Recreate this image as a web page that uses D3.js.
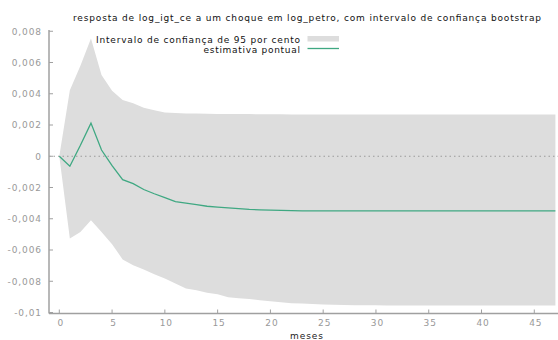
<!DOCTYPE html>
<html>
<head>
<meta charset="utf-8">
<script src="https://cdn.jsdelivr.net/npm/d3@7"></script>
<style>
  html, body { margin: 0; padding: 0; background: #fff; }
  svg text { font-family: "DejaVu Sans", Verdana, sans-serif; }
</style>
</head>
<body>
<svg id="chart" width="558" height="340"></svg>
<script>
// Impulse response of log_igt_ce to a shock in log_petro (months 0..47)
const months = d3.range(0, 48);

const pointEstimate = [
  0, -0.00064, 0.0007, 0.00212, 0.0004, -0.0006, -0.0015, -0.00175, -0.00213, -0.0024,
  -0.00265, -0.0029, -0.003, -0.0031, -0.0032, -0.00325, -0.0033, -0.00335, -0.0034, -0.00343,
  -0.00345, -0.00347, -0.00348, -0.00349, -0.0035, -0.0035, -0.0035, -0.0035, -0.0035, -0.0035,
  -0.0035, -0.0035, -0.0035, -0.0035, -0.0035, -0.0035, -0.0035, -0.0035, -0.0035, -0.0035,
  -0.0035, -0.0035, -0.0035, -0.0035, -0.0035, -0.0035, -0.0035, -0.0035
];

const upperBound = [
  0, 0.00422, 0.0058, 0.00753, 0.0052, 0.0042, 0.0036, 0.0034, 0.0031, 0.00294,
  0.0028, 0.00277, 0.00274, 0.00273, 0.00272, 0.00271, 0.0027, 0.0027, 0.0027, 0.00269,
  0.00269, 0.00269, 0.00268, 0.00268, 0.00268, 0.00268, 0.00268, 0.00268, 0.00268, 0.00268,
  0.00268, 0.00268, 0.00268, 0.00268, 0.00268, 0.00268, 0.00268, 0.00268, 0.00268, 0.00268,
  0.00268, 0.00268, 0.00268, 0.00268, 0.00268, 0.00268, 0.00268, 0.00268
];

const lowerBound = [
  0, -0.00527, -0.00484, -0.0041, -0.00484, -0.00563, -0.0066, -0.00698, -0.00725, -0.00755,
  -0.00783, -0.00815, -0.00847, -0.00858, -0.00873, -0.00883, -0.00902, -0.00909, -0.00913, -0.00922,
  -0.00928, -0.00935, -0.0094, -0.00943, -0.00946, -0.00948, -0.0095, -0.00952, -0.00953, -0.00954,
  -0.00954, -0.00955, -0.00955, -0.00955, -0.00955, -0.00955, -0.00955, -0.00955, -0.00955, -0.00955,
  -0.00955, -0.00955, -0.00955, -0.00955, -0.00955, -0.00955, -0.00955, -0.00955
];

const xTicks = [0, 5, 10, 15, 20, 25, 30, 35, 40, 45];
const yTicks = [0.008, 0.006, 0.004, 0.002, 0, -0.002, -0.004, -0.006, -0.008, -0.01];
const yTickLabels = ["0,008", "0,006", "0,004", "0,002", "0", "-0,002", "-0,004", "-0,006", "-0,008", "-0,01"];

const titleText = "resposta de log_igt_ce a um choque em log_petro, com intervalo de confiança bootstrap";
const legendLabels = ["Intervalo de confiança de 95 por cento", "estimativa pontual"];
const xAxisLabel = "meses";

const bandColor = "#dddddd";
const lineColor = "#3fa882";
const axisColor = "#a0a0a0";
const tickTextColor = "#999999";
const fontSize = "9px";

const svg = d3.select("#chart");

const x = d3.scaleLinear().domain([0, 47]).range([59.3, 555.4]);
const y = d3.scaleLinear().domain([-0.01, 0.008]).range([312.5, 31.25]);

const axisLeft = 49, axisRight = 558, axisBottom = 313.5, axisTop = 30;

// confidence band
const band = d3.area()
  .x((d, i) => x(months[i]))
  .y0((d, i) => y(lowerBound[i]))
  .y1((d, i) => y(upperBound[i]));
svg.append("path")
  .datum(months)
  .attr("d", band)
  .attr("fill", bandColor);

// zero reference line
svg.append("line")
  .attr("x1", axisLeft).attr("x2", axisRight)
  .attr("y1", y(0)).attr("y2", y(0))
  .attr("stroke", "#9a9a9a")
  .attr("stroke-width", 1)
  .attr("stroke-dasharray", "1.5,3");

// point estimate
const line = d3.line()
  .x((d, i) => x(months[i]))
  .y((d, i) => y(pointEstimate[i]));
svg.append("path")
  .datum(months)
  .attr("d", line)
  .attr("fill", "none")
  .attr("stroke", lineColor)
  .attr("stroke-width", 1.3);

// axes frame
svg.append("line")
  .attr("x1", axisLeft).attr("x2", axisLeft)
  .attr("y1", axisTop).attr("y2", axisBottom)
  .attr("stroke", axisColor).attr("stroke-width", 1.5);
svg.append("line")
  .attr("x1", axisLeft).attr("x2", axisRight)
  .attr("y1", axisBottom).attr("y2", axisBottom)
  .attr("stroke", axisColor).attr("stroke-width", 1.5);

// y ticks and labels
const yt = svg.append("g");
yt.selectAll("line").data(yTicks).join("line")
  .attr("x1", axisLeft).attr("x2", axisLeft + 4)
  .attr("y1", d => y(d)).attr("y2", d => y(d))
  .attr("stroke", axisColor).attr("stroke-width", 1);
yt.selectAll("text").data(yTicks).join("text")
  .attr("x", 42)
  .attr("y", d => y(d) + 3.3)
  .attr("text-anchor", "end")
  .attr("font-size", fontSize)
  .attr("letter-spacing", "0.9px")
  .attr("fill", tickTextColor)
  .text((d, i) => yTickLabels[i]);

// x ticks and labels
const xt = svg.append("g");
xt.selectAll("line").data(xTicks).join("line")
  .attr("x1", d => x(d)).attr("x2", d => x(d))
  .attr("y1", axisBottom).attr("y2", axisBottom - 4)
  .attr("stroke", axisColor).attr("stroke-width", 1);
xt.selectAll("text").data(xTicks).join("text")
  .attr("x", d => x(d) + 1.5)
  .attr("y", 326)
  .attr("text-anchor", "middle")
  .attr("font-size", fontSize)
  .attr("letter-spacing", "0.9px")
  .attr("fill", tickTextColor)
  .text(d => d);

// x axis label
svg.append("text")
  .attr("x", 306.5).attr("y", 339)
  .attr("text-anchor", "middle")
  .attr("font-size", fontSize)
  .attr("textLength", 33).attr("lengthAdjust", "spacing")
  .attr("fill", "#222")
  .text(xAxisLabel);

// title
svg.append("text")
  .attr("x", 73).attr("y", 20.5)
  .attr("font-size", fontSize)
  .attr("textLength", 468).attr("lengthAdjust", "spacing")
  .attr("fill", "#111")
  .text(titleText);

// legend
const legend = svg.append("g");
legend.append("text")
  .attr("x", 96).attr("y", 42.5)
  .attr("font-size", fontSize)
  .attr("textLength", 204).attr("lengthAdjust", "spacing")
  .attr("fill", "#111")
  .text(legendLabels[0]);
legend.append("rect")
  .attr("x", 307.5).attr("y", 36).attr("width", 31.5).attr("height", 5.5)
  .attr("fill", bandColor);
legend.append("text")
  .attr("x", 203.5).attr("y", 52.8)
  .attr("font-size", fontSize)
  .attr("textLength", 96.5).attr("lengthAdjust", "spacing")
  .attr("fill", "#111")
  .text(legendLabels[1]);
legend.append("line")
  .attr("x1", 307.5).attr("x2", 339)
  .attr("y1", 48.5).attr("y2", 48.5)
  .attr("stroke", lineColor).attr("stroke-width", 1.3);
</script>
</body>
</html>
